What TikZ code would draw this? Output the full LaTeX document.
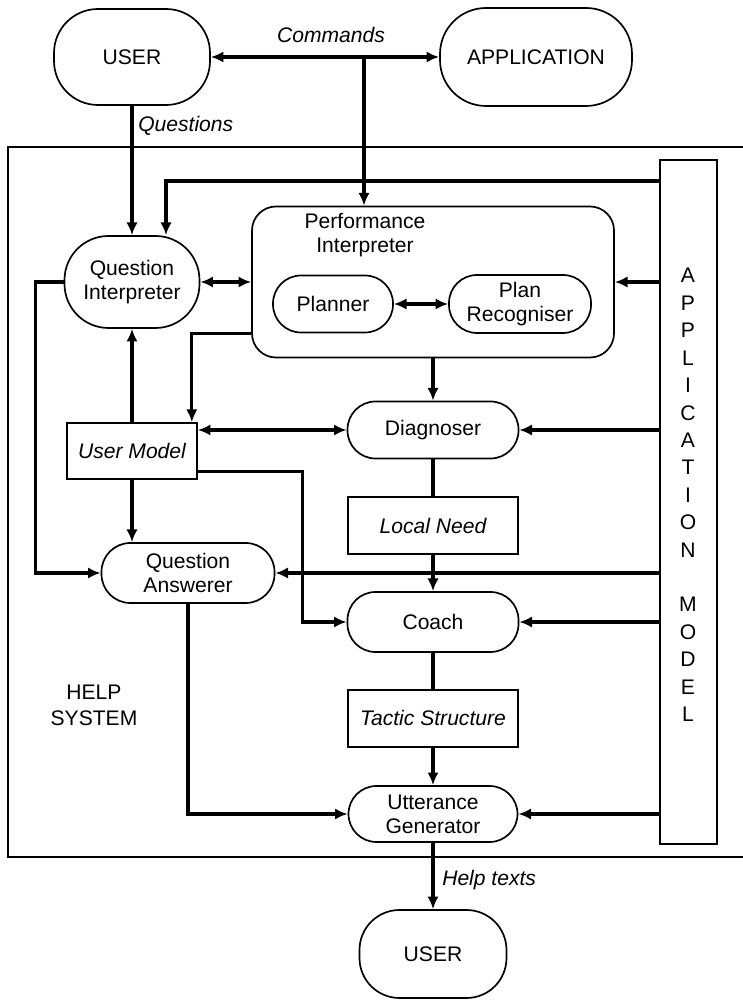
\documentclass[tikz,border=0pt]{standalone}
\usepackage{fontspec}
\setmainfont{Liberation Sans}
\usetikzlibrary{arrows.meta,calc}
\newcommand{\hsfont}{\fontsize{15}{17}\selectfont}
\tikzset{
  base/.style   = {draw, line width=1.2pt, align=center, font=\hsfont, inner sep=2pt},
  blob/.style   = {base, rounded corners=1.1cm},
  pill/.style   = {base, rounded corners=0.7cm, minimum width=4.25cm,
                   minimum height=1.45cm},
  % data stores are plain boxes with italic text
  store/.style  = {base, font=\hsfont\itshape, minimum width=4.25cm,
                   minimum height=1.425cm},
  lbl/.style    = {font=\hsfont\itshape, inner sep=0pt},
  link/.style   = {line width=2.2pt},
  arr/.style    = {link, -{Latex[length=9pt, width=8pt]}},
  biarr/.style  = {link, {Latex[length=9pt, width=8pt]}-{Latex[length=9pt, width=8pt]}},
  frame/.style  = {line width=1.5pt},
}

\begin{document}
\begin{tikzpicture}
  \useasboundingbox (0,0) rectangle (18.55,25);

  % outer help system frame, open to the right
  \draw[frame] (18.7,21.325) -| (0.2,3.575) -- (18.7,3.575);
  \node[font=\fontsize{15}{18.5}\selectfont, align=center] (help) at (2.35,7.375) {HELP\\SYSTEM};

  \node[blob, minimum width=3.9cm, minimum height=2.4cm] (userTop) at (3.3,23.575) {USER};
  \node[blob, rounded corners=1.15cm, minimum width=4.8cm, minimum height=2.45cm]
        (app) at (13.4,23.575) {APPLICATION};

  \node[blob, minimum width=3.375cm, minimum height=2.3cm] (qi) at (3.3,17.95) {Question\\Interpreter};
  \node[base, rounded corners=0.6cm, minimum width=9.05cm, minimum height=3.775cm] (pi) at (10.825,17.95) {};
  \node[font=\hsfont, align=center] (piText) at (9.125,19.125) {Performance\\Interpreter};
  \node[pill, minimum width=3.0cm, minimum height=1.425cm] (planner) at (8.325,17.4) {Planner};
  \node[pill, minimum width=3.55cm] (planRec) at (13.0,17.4) {Plan\\Recogniser};

  \node[store, minimum width=3.25cm, minimum height=1.4cm] (um) at (3.3,13.725) {User Model};
  \node[pill, minimum width=4.275cm, minimum height=1.425cm] (diag) at (10.825,14.25) {Diagnoser};
  \node[store] (need) at (10.825,11.86) {Local Need};
  \node[pill, rounded corners=0.72cm, minimum width=4.325cm, minimum height=1.5cm] (qa) at (4.7,10.675) {Question\\Answerer};
  \node[pill, minimum width=4.275cm, minimum height=1.5cm] (coach) at (10.825,9.45) {Coach};
  \node[store] (tactic) at (10.825,7.04) {Tactic Structure};
  \node[pill, minimum width=4.225cm, minimum height=1.4cm] (utter) at (10.825,4.65) {Utterance\\Generator};

  \node[blob, rounded corners=1.0cm, minimum width=3.675cm, minimum height=2.2cm] (userBot) at (10.825,1.15) {USER};

  \node[base, minimum width=1.425cm, minimum height=17.1cm] (am) at (17.2125,12.45) {};
  \node[font=\fontsize{15}{19.5}\selectfont, align=center, inner sep=0pt] (amText) at (17.2,12.625)
    {A\\P\\P\\L\\I\\C\\A\\T\\I\\O\\N\\[19.5pt]M\\O\\D\\E\\L};

  % user side
  \coordinate (cmd) at (9.1,23.575);
  \draw[biarr] (userTop) -- (app);
  \node[lbl] (cmdLbl) at (8.275,24.125) {Commands};
  \draw[arr] (cmd) -- (cmd |- pi.north);
  \draw[arr] (userTop) -- (qi);
  \node[lbl, anchor=west] (qLbl) at (3.45,21.85) {Questions};

  % interpreters
  \draw[arr] (am.west |- 0,20.475) -| ($(qi.north)+(0.85,0)$);
  \draw[biarr] (qi) -- (pi);
  \draw[biarr] (planner) -- (planRec);
  \draw[arr] (am.west |- pi) -- (pi);
  \draw[arr] ($(pi.south west)+(0,0.625)$) -| ($(um.north east)+(-0.15,0)$);
  \draw[arr] (pi) -- (diag);

  % user model
  \draw[arr] (um) -- (qi);
  \draw[biarr] (um.east |- diag) -- (diag);
  \draw[arr] ($(um.south east)+(0,0.2)$) -| ($(coach.west)+(-1.1,0)$) -- (coach);
  \draw[arr] (um.south) -- (um.south |- qa.north);
  \draw[arr] (qi.west) -- ++(-0.7,0) |- (qa.west);

  % main chain down to the generator
  \draw[link] (diag) -- (need);
  \draw[arr] (need) -- (coach);
  \draw[link] (coach) -- (tactic);
  \draw[arr] (tactic) -- (utter);
  \draw[arr] (qa.south) |- (utter.west);

  \foreach \n in {diag, qa, coach, utter}
    \draw[arr] (am.west |- \n) -- (\n);

  \draw[arr] (utter) -- (userBot);
  \node[lbl, anchor=west] (helpLbl) at (11.05,3.0) {Help texts};
\end{tikzpicture}
\end{document}
